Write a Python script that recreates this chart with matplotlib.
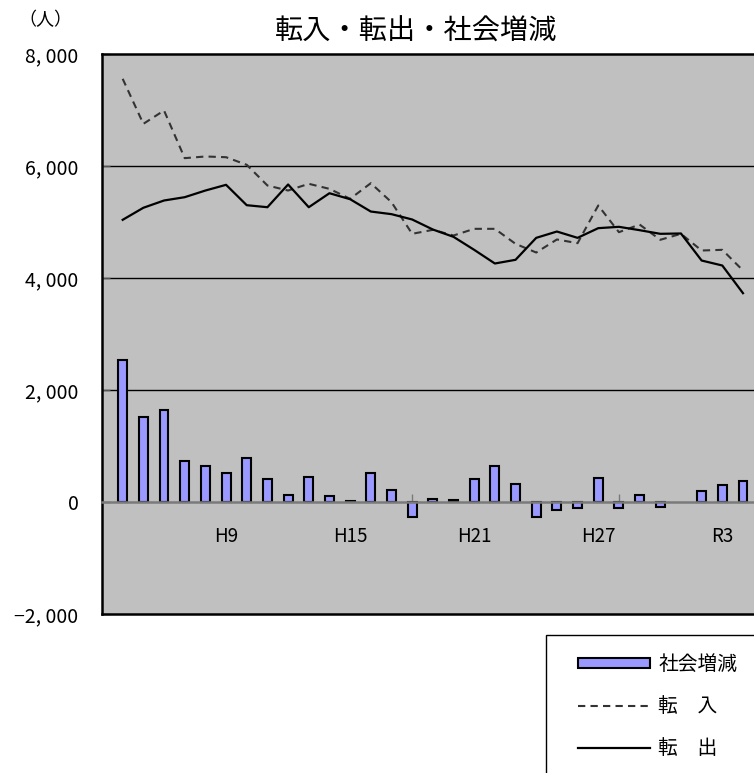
import matplotlib
matplotlib.use("Agg")
import matplotlib.pyplot as plt
from matplotlib.patches import Rectangle
from matplotlib.ticker import FixedLocator, FuncFormatter

plt.rcParams['font.family'] = ['Noto Sans CJK JP', 'DejaVu Sans']

# ---- data ----
years = ([f"H{i}" for i in range(4, 31)] + ["R1", "R2", "R3", "R4"])
shown_labels = ["H9", "H15", "H21", "H27", "R3"]
tenyu = [7557, 6753, 6991, 6140, 6170, 6157, 6021, 5652, 5562, 5682,
         5592, 5414, 5693, 5354, 4789, 4860, 4759, 4878, 4878, 4610,
         4455, 4688, 4622, 5295, 4818, 4955, 4682, 4789, 4491, 4503, 4134]
tenshutsu = [5039, 5254, 5384, 5443, 5562, 5664, 5300, 5264, 5670, 5264,
             5514, 5407, 5187, 5140, 5045, 4866, 4735, 4503, 4259, 4325,
             4717, 4830, 4717, 4890, 4914, 4854, 4789, 4795, 4312, 4223, 3729]
shakai = [2530, 1520, 1640, 730, 640, 512, 780, 417, 131, 452,
          100, 15, 515, 223, -265, 50, 40, 415, 640, 318,
          -265, -146, -100, 420, -100, 122, -90, float("nan"), 200, 300, 378]
y_ticks = [-2000, 0, 2000, 4000, 6000, 8000]

W, H = 754, 773
fig = plt.figure(figsize=(W / 100, H / 100), dpi=100)
fig.patch.set_facecolor("white")

left_px, top_px, bot_px = 102, 54, 614
ax = fig.add_axes([left_px / W, 1 - bot_px / H, 672 / W, (bot_px - top_px) / H])
ax.set_facecolor("#C0C0C0")

x = list(range(len(years)))
bars = ax.bar(x, shakai, width=0.43, color="#9999FF", edgecolor="black",
              linewidth=1.5, zorder=2, label="社会増減")
l1, = ax.plot(x, tenyu, color="#333333", linewidth=1.5, linestyle=(0, (3.5, 2.5)),
              zorder=4, label="転　入")
l2, = ax.plot(x, tenshutsu, color="black", linewidth=1.6, zorder=4, label="転　出")

ax.set_xlim(-1, 31.5)
ax.set_ylim(-2000, 8000)

# gridlines
for v in [2000, 4000, 6000]:
    ax.axhline(v, color="black", linewidth=1.0, zorder=1)
ax.axhline(-2000, color="black", linewidth=1.8, zorder=5, clip_on=False)

# spines
ax.spines['right'].set_visible(False)
ax.spines['top'].set_color("black")
ax.spines['top'].set_linewidth(1.8)
ax.spines['left'].set_color("black")
ax.spines['left'].set_linewidth(1.8)
ax.spines['bottom'].set_position(('data', 0))
ax.spines['bottom'].set_color("#7a7a7a")
ax.spines['bottom'].set_linewidth(1.8)

# y axis
ax.yaxis.set_major_locator(FixedLocator(y_ticks))
def yfmt(v, pos):
    s = f"{abs(int(v)):,}".replace(",", ", ")
    return ("−" + s) if v < 0 else s
ax.yaxis.set_major_formatter(FuncFormatter(yfmt))
ax.tick_params(axis='y', direction='in', length=6, width=1, color="#555555",
               pad=17, labelsize=14, labelcolor="black")

# x axis
label_idx = [years.index(s) for s in shown_labels]
ax.set_xticks(label_idx)
ax.set_xticklabels(shown_labels)
ax.set_xticks([4, 9, 14, 19, 24, 29], minor=True)
ax.tick_params(axis='x', which='major', length=0, pad=17.5, labelsize=13.5)
ax.tick_params(axis='x', which='minor', direction='in', length=6, width=1,
               color="#7a7a7a")

# titles
fig.text(416.5 / W, 1 - 32 / H, "転入・転出・社会増減", ha="center", va="center",
         fontsize=20.3)
fig.text(45 / W, 1 - 20 / H, "（人）", ha="center", va="center", fontsize=13)

# legend
leg = fig.legend(handles=[bars, l1, l2], labels=["社会増減", "転　入", "転　出"],
                 loc="upper left", bbox_to_anchor=(568 / W, 1 - 644 / H),
                 frameon=False, fontsize=14.2, handlelength=3.67,
                 handleheight=0.4, handletextpad=0.4, labelspacing=1.07,
                 borderpad=0.0)
fig.patches.append(Rectangle((546 / W, 0 - 0.05), 0.5, (1 - 635 / H) + 0.05,
                             transform=fig.transFigure, facecolor="none",
                             edgecolor="black", linewidth=1.0))

fig.savefig("out.png", dpi=100)
